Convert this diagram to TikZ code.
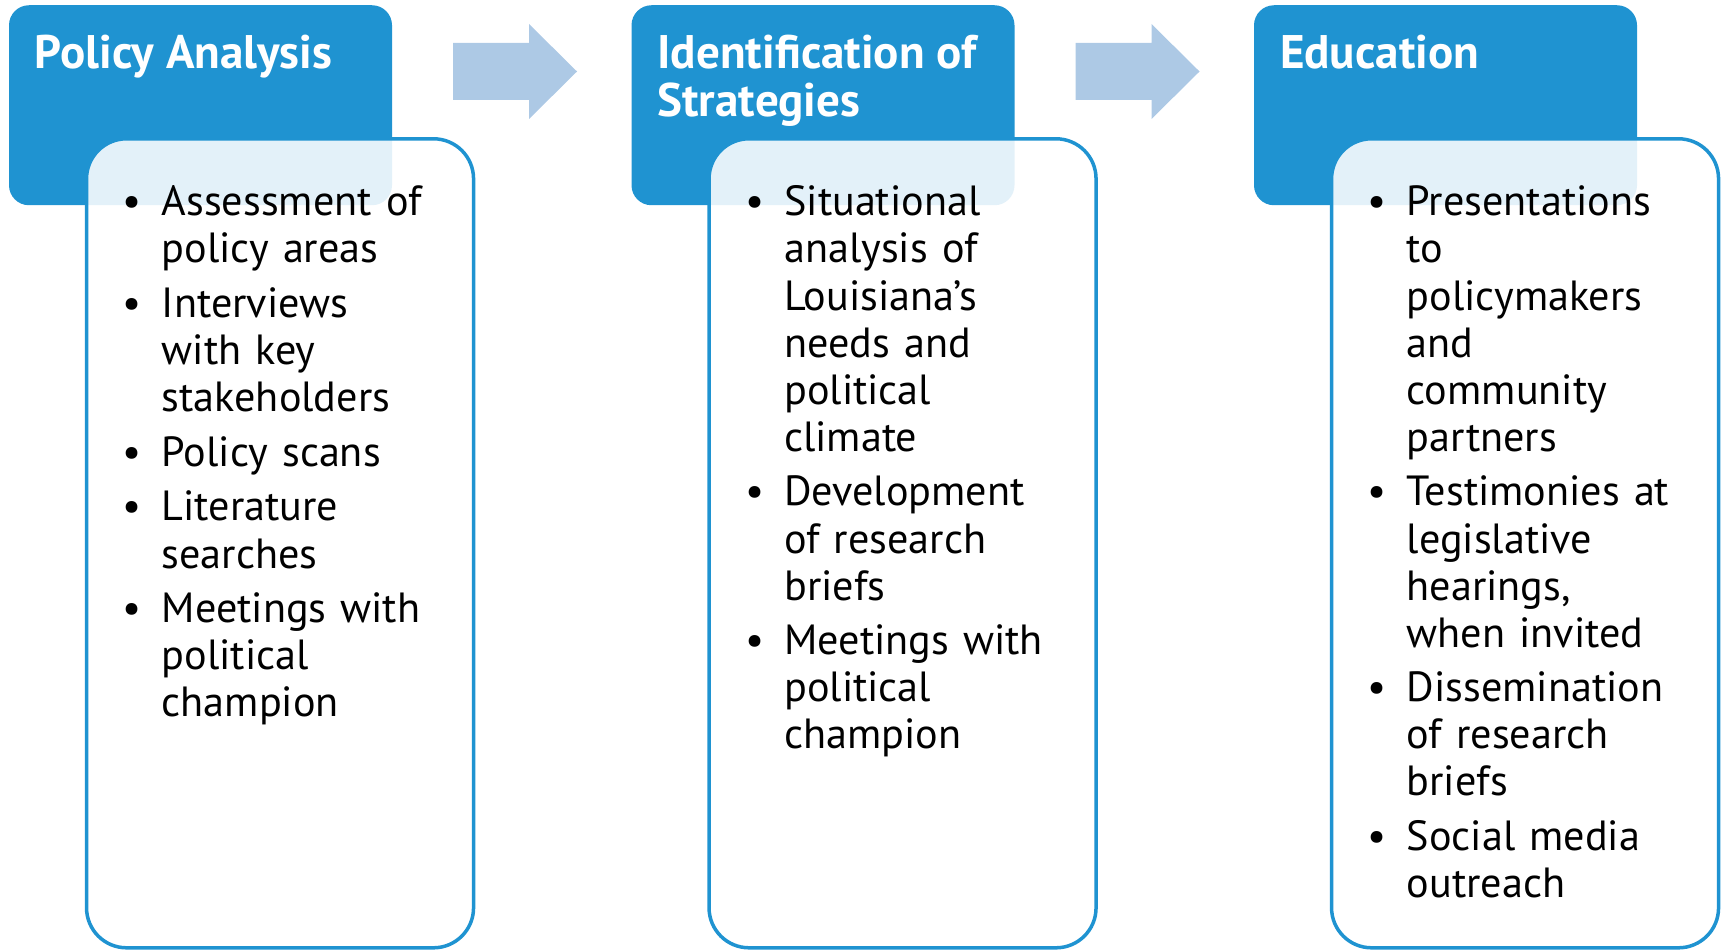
\documentclass[tikz,border=0pt]{standalone}
\usepackage{fontspec}
\setmainfont{PT Sans}
\usetikzlibrary{positioning}

\definecolor{headblue}{HTML}{1F93D1}
\definecolor{flowblue}{HTML}{ADC9E5}

\newenvironment{pointlist}{%
  \begin{list}{\textbullet}{%
    \setlength{\labelwidth}{0.2cm}\setlength{\labelsep}{0.2cm}%
    \setlength{\leftmargin}{0.4cm}\setlength{\itemsep}{0.075cm}%
    \setlength{\parsep}{0pt}\setlength{\topsep}{0pt}\setlength{\partopsep}{0pt}}}%
  {\end{list}}

\begin{document}
\begin{tikzpicture}[
  head/.style={fill=headblue, rounded corners=0.2cm, minimum width=3.83cm, minimum height=2.0cm, inner sep=0pt},
  body/.style={draw=headblue, line width=0.035cm, fill=white, fill opacity=0.88, rounded corners=0.4cm, minimum width=3.87cm, minimum height=8.09cm, inner sep=0pt},
  title/.style={text=white, font=\bfseries\fontsize{13.4}{13.5}\selectfont, align=left, inner sep=0pt},
  points/.style={font=\fontsize{12}{13.4}\selectfont, text width=3.6cm, align=left, inner sep=0pt},
  flow/.style={fill=flowblue},
  ]
\useasboundingbox (0,0) rectangle (17.21,9.49);

% Arrows between the stages
\foreach \dx in {0,6.225}
  \fill[flow, xshift=\dx cm] (4.53,8.49) -- (5.29,8.49) -- (5.29,8.30) -- (5.77,8.775)
    -- (5.29,9.25) -- (5.29,9.06) -- (4.53,9.06) -- cycle;

% Headers
\node[head] (h1) at (2.005,8.4375) {};
\node[head] (h2) at (8.23,8.4375) {};
\node[head] (h3) at (14.455,8.4375) {};

% Bodies
\node[body, below right=1.325cm and 0.765cm of h1.north west] (b1) {};
\node[body, below right=1.325cm and 0.765cm of h2.north west] (b2) {};
\node[body, below right=1.325cm and 0.765cm of h3.north west] (b3) {};

% Titles
\node[title, below right=0.3cm and 0.26cm of h1.north west] (t1) {Policy Analysis};
\node[title, below right=0.3cm and 0.26cm of h2.north west] (t2) {Identification of\\Strategies};
\node[title, below right=0.3cm and 0.26cm of h3.north west] (t3) {Education};

% Points
\node[points, below right=0.31cm and 0.363cm of b1.north west] (p1) {%
  \begin{pointlist}
  \item Assessment of\\policy areas
  \item Interviews\\with key\\stakeholders
  \item Policy scans
  \item Literature\\searches
  \item Meetings with\\political\\champion
  \end{pointlist}};
\node[points, below right=0.31cm and 0.363cm of b2.north west] (p2) {%
  \begin{pointlist}
  \item Situational\\analysis of\\Louisiana’s\\needs and\\political\\climate
  \item Development\\of research\\briefs
  \item Meetings with\\political\\champion
  \end{pointlist}};
\node[points, below right=0.31cm and 0.363cm of b3.north west] (p3) {%
  \begin{pointlist}
  \item Presentations\\to\\policymakers\\and\\community\\partners
  \item Testimonies at\\legislative\\hearings,\\when invited
  \item Dissemination\\of research\\briefs
  \item Social media\\outreach
  \end{pointlist}};

\end{tikzpicture}
\end{document}
